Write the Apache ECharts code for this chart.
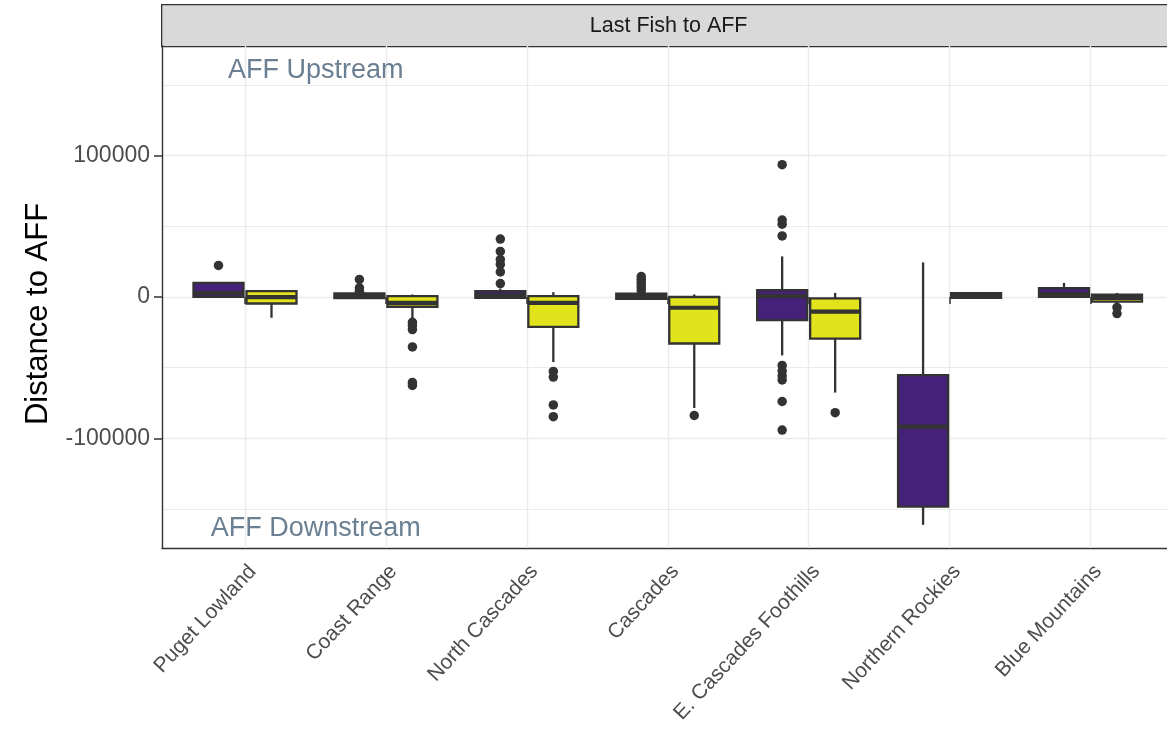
<!DOCTYPE html>
<html><head><meta charset="utf-8">
<script src="https://cdn.jsdelivr.net/npm/echarts@6/dist/echarts.min.js"></script>
<style>html,body{margin:0;padding:0;background:#fff}#c{width:1167px;height:735px}</style>
</head><body><div id="c"></div>
<script>
const categories = ['Puget Lowland','Coast Range','North Cascades','Cascades','E. Cascades Foothills','Northern Rockies','Blue Mountains'];
// [lowWhisker, Q1, median, Q3, highWhisker]
const purpleStats = [
  [100, 100, 2800, 10000, 10000],
  [-800, -800, 1000, 2500, 3000],
  [-600, -600, 1200, 4100, 6000],
  [-1300, -1300, 300, 2400, 3500],
  [-41300, -16400, 600, 4900, 28700],
  [-161100, -148200, -91700, -55300, 24500],
  [100, 100, 2100, 6300, 10000]
];
const yellowStats = [
  [-14700, -4600, -100, 4100, 4100],
  [-15900, -6900, -4100, 600, 1800],
  [-46000, -21100, -4100, 600, 3400],
  [-78500, -32900, -7600, 0, 1800],
  [-67600, -29500, -10400, -1000, 2900],
  [-600, -600, 1000, 2800, 2800],
  [-5000, -3200, -600, 1600, 2900]
];
const purpleOutliers = [
  ['Puget Lowland', 22300],
  ['Coast Range', 12400], ['Coast Range', 6500], ['Coast Range', 4100],
  ['North Cascades', 41000], ['North Cascades', 32200], ['North Cascades', 26500], ['North Cascades', 23000], ['North Cascades', 17700], ['North Cascades', 9500],
  ['Cascades', 14500], ['Cascades', 12500], ['Cascades', 10500], ['Cascades', 8500], ['Cascades', 6500], ['Cascades', 4500],
  ['E. Cascades Foothills', 93600], ['E. Cascades Foothills', 54400], ['E. Cascades Foothills', 51500], ['E. Cascades Foothills', 43200],
  ['E. Cascades Foothills', -48400], ['E. Cascades Foothills', -52300], ['E. Cascades Foothills', -55800], ['E. Cascades Foothills', -58700],
  ['E. Cascades Foothills', -73900], ['E. Cascades Foothills', -94100]
];
const yellowOutliers = [
  ['Coast Range', -17900], ['Coast Range', -20100], ['Coast Range', -23000], ['Coast Range', -35300], ['Coast Range', -60400], ['Coast Range', -62500],
  ['North Cascades', -52600], ['North Cascades', -56600], ['North Cascades', -76300], ['North Cascades', -84600],
  ['Cascades', -83800],
  ['E. Cascades Foothills', -81800],
  ['Blue Mountains', -7400], ['Blue Mountains', -11700]
];
const yMajorTicks = [-100000, 0, 100000];
const yMinorTicks = [-150000, -50000, 50000, 150000];
const annotationTexts = ['AFF Upstream', 'AFF Downstream'];
const annotationPos = [[0.5, 160000], [0.5, -164000]];
const stripTitle = 'Last Fish to AFF';
const yTitle = 'Distance to AFF';

const Y_MIN = -177500, Y_MAX = 177500;
const FONT = "'Liberation Sans', Arial, Helvetica, sans-serif";
const PURPLE = '#46217A', YELLOW = '#E1E31B', EDGE = '#333333';
const OFFSET = 26.5, BOX_W = 50;

function boxRenderer(dir, color) {
  return function (params, api) {
    const cat = api.value(0);
    const cx = api.coord([cat, 0])[0] + dir * OFFSET;
    const yLo = api.coord([cat, api.value(1)])[1];
    const yQ1 = api.coord([cat, api.value(2)])[1];
    const yMed = api.coord([cat, api.value(3)])[1];
    const yQ3 = api.coord([cat, api.value(4)])[1];
    const yHi = api.coord([cat, api.value(5)])[1];
    const lw = 2.3;
    return {
      type: 'group',
      children: [
        { type: 'line', shape: { x1: cx, y1: yHi, x2: cx, y2: yQ3 }, style: { stroke: EDGE, lineWidth: lw } },
        { type: 'line', shape: { x1: cx, y1: yQ1, x2: cx, y2: yLo }, style: { stroke: EDGE, lineWidth: lw } },
        { type: 'rect', shape: { x: cx - BOX_W / 2, y: yQ3, width: BOX_W, height: Math.max(yQ1 - yQ3, 0.5) }, style: { fill: color, stroke: EDGE, lineWidth: lw } },
        { type: 'line', shape: { x1: cx - BOX_W / 2, y1: yMed, x2: cx + BOX_W / 2, y2: yMed }, style: { stroke: EDGE, lineWidth: 4.2 } }
      ]
    };
  };
}

const chart = echarts.init(document.getElementById('c'), null, { renderer: 'canvas' });
const gridTop = 46, gridBottom = 187;
const option = {
  backgroundColor: '#ffffff',
  animation: false,
  textStyle: { fontFamily: FONT },
  grid: [
    { left: 245, right: 76.5, top: gridTop, bottom: gridBottom, containLabel: false },
    { left: 162, right: 0, top: gridTop, bottom: gridBottom, containLabel: false },
    { left: 162, right: 0, top: gridTop, bottom: gridBottom, containLabel: false }
  ],
  xAxis: [
    {
      gridIndex: 0, type: 'category', data: categories, boundaryGap: false,
      axisLine: { show: false },
      axisTick: { show: true, interval: 0, length: 7, lineStyle: { color: EDGE, width: 1.5 } },
      axisLabel: { interval: 0, rotate: 47, margin: 13, fontSize: 21, color: '#4D4D4D', fontFamily: FONT, align: 'right', verticalAlign: 'top' },
      splitLine: { show: true, interval: 0, lineStyle: { color: '#EBEBEB', width: 1.4 } },
      z: 1
    },
    {
      gridIndex: 1, type: 'value', min: -0.591, max: 6.544,
      axisLine: { show: true, onZero: false, lineStyle: { color: EDGE, width: 1.4 } },
      axisTick: { show: false }, axisLabel: { show: false }, splitLine: { show: false }
    },
    {
      gridIndex: 2, type: 'value', min: -0.591, max: 6.544, show: false
    }
  ],
  yAxis: [
    { gridIndex: 0, type: 'value', min: Y_MIN, max: Y_MAX, show: false, splitLine: { show: false } },
    {
      gridIndex: 1, type: 'value', min: Y_MIN, max: Y_MAX,
      axisLine: { show: true, onZero: false, lineStyle: { color: EDGE, width: 1.4 } },
      axisTick: { show: true, customValues: yMajorTicks, length: 8, lineStyle: { color: EDGE, width: 1.5 } },
      axisLabel: { show: true, customValues: yMajorTicks, fontSize: 23, color: '#4D4D4D', margin: 12, fontFamily: FONT,
                   formatter: function (v) { return String(v); } },
      splitLine: { show: true, lineStyle: { color: '#EBEBEB', width: 1.4 } },
      name: yTitle, nameLocation: 'middle', nameGap: 108, nameRotate: 90,
      nameTextStyle: { fontSize: 31, color: '#000000', fontFamily: FONT, padding: [0, 34, 0, 0] }
    },
    {
      gridIndex: 2, type: 'value', min: Y_MIN, max: Y_MAX,
      axisLine: { show: false },
      axisTick: { show: false, customValues: yMinorTicks },
      axisLabel: { show: false, customValues: yMinorTicks },
      splitLine: { show: true, lineStyle: { color: '#EBEBEB', width: 1.2 } }
    }
  ],
  graphic: [
    {
      type: 'group', left: 161, top: 4,
      children: [
        { type: 'rect', shape: { x: 0, y: 0, width: 1010, height: 42 }, style: { fill: '#D9D9D9', stroke: EDGE, lineWidth: 1.3 } },
        { type: 'text', x: 507, y: 21, style: { text: stripTitle, fill: '#1A1A1A', font: '21.5px ' + FONT, textAlign: 'center', textVerticalAlign: 'middle' } }
      ]
    }
  ],
  series: [
    {
      type: 'custom', name: 'purple', xAxisIndex: 0, yAxisIndex: 0,
      renderItem: boxRenderer(-1, PURPLE),
      encode: { x: 0, y: [1, 2, 3, 4, 5] },
      data: categories.map((c, i) => [c].concat(purpleStats[i])), z: 3
    },
    {
      type: 'custom', name: 'yellow', xAxisIndex: 0, yAxisIndex: 0,
      renderItem: boxRenderer(1, YELLOW),
      encode: { x: 0, y: [1, 2, 3, 4, 5] },
      data: categories.map((c, i) => [c].concat(yellowStats[i])), z: 3
    },
    {
      type: 'scatter', xAxisIndex: 0, yAxisIndex: 0, data: purpleOutliers,
      symbol: 'circle', symbolSize: 9.5, symbolOffset: [-OFFSET, 0],
      itemStyle: { color: EDGE, opacity: 1 }, z: 4, silent: true
    },
    {
      type: 'scatter', xAxisIndex: 0, yAxisIndex: 0, data: yellowOutliers,
      symbol: 'circle', symbolSize: 9.5, symbolOffset: [OFFSET, 0],
      itemStyle: { color: EDGE, opacity: 1 }, z: 4, silent: true
    },
    {
      type: 'scatter', xAxisIndex: 1, yAxisIndex: 1,
      data: annotationPos.map((p, i) => ({ value: p, name: annotationTexts[i] })),
      symbolSize: 0, silent: true, z: 5, itemStyle: { opacity: 1 },
      label: { show: true, position: 'inside', formatter: '{b}', fontSize: 27, color: '#6A7F92', fontFamily: FONT }
    }
  ]
};
chart.setOption(option);
</script>
</body></html>
